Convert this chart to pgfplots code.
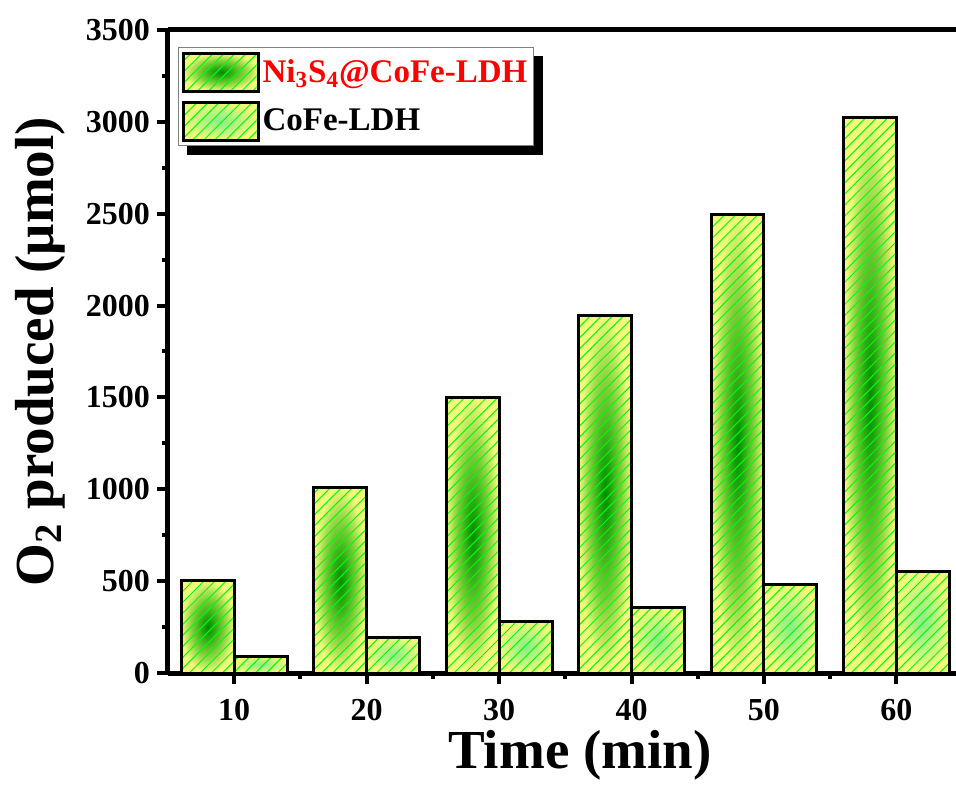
\documentclass[border=0pt]{standalone}
\usepackage{fontspec}
\setmainfont{Liberation Serif}
\usepackage{pgfplots}
\pgfplotsset{compat=1.18}
\usetikzlibrary{patterns.meta,calc,backgrounds}

\definecolor{edgeY}{RGB}{240,248,125}
\definecolor{niC}{RGB}{0,140,0}
\definecolor{niD}{RGB}{40,170,20}
\definecolor{niM}{RGB}{130,205,60}
\definecolor{coC}{RGB}{135,238,135}
\definecolor{hatch}{RGB}{0,255,0}

\pgfdeclareradialshading{nishade}{\pgfpoint{0bp}{0bp}}{color(0bp)=(niC); color(6bp)=(niD); color(15bp)=(niM); color(25bp)=(edgeY); color(50bp)=(edgeY)}
\pgfdeclareradialshading{coshade}{\pgfpoint{0bp}{0bp}}{color(0bp)=(coC); color(25bp)=(edgeY); color(50bp)=(edgeY)}

\pgfplotsset{
  nibar/.style={ybar, bar width=4, bar shift=-2, draw=black, line width=1.5pt,
    preaction={shade, shading=nishade},
    pattern={Lines[angle=45,distance=3.9pt,line width=0.5pt]}, pattern color=hatch},
  cobar/.style={ybar, bar width=4, bar shift=2, draw=black, line width=1.5pt,
    preaction={shade, shading=coshade},
    pattern={Lines[angle=45,distance=3.9pt,line width=0.5pt]}, pattern color=hatch},
}

\begin{document}
\begin{tikzpicture}
\begin{axis}[
  name=ax,
  scale only axis, width=394pt, height=321.5pt,
  xmin=5, xmax=64.5, ymin=0, ymax=3500,
  axis x line*=bottom, axis y line*=left,
  axis line style={line width=2.5pt},
  clip=false,
  xtick={10,20,...,60},
  minor xtick={15,25,...,55},
  ytick={0,500,...,3500},
  minor ytick={250,750,...,3250},
  tick align=outside,
  major tick length=5.5pt, minor tick length=3pt,
  every tick/.style={black, line width=2pt},
  /pgf/number format/assume math mode=true,
  /pgf/number format/set thousands separator={},
  tick label style={font=\bfseries\fontsize{16}{16}\selectfont},
  xticklabel style={yshift=-4pt},
  xlabel={Time (min)},
  ylabel={O\textsubscript{2} produced (μmol)},
  label style={font=\bfseries\fontsize{27.5}{27.5}\selectfont},
  xlabel style={at={(axis cs:36.1,0)}, yshift=-41pt, anchor=center},
  ylabel style={at={(axis description cs:-0.1624,0.5)}, anchor=center},
  legend style={name=leg, at={(axis description cs:0,1)}, xshift=5pt, yshift=-8.5pt, anchor=north west,
    draw=gray, line width=0.6pt, fill=white,
    font=\bfseries\fontsize{16.5}{16.5}\selectfont,
    inner xsep=1.5pt, inner ysep=2pt, row sep=4pt,
    nodes={inner xsep=1.5pt, inner ysep=2pt}},
  legend cell align=left,
  legend image code/.code={\draw[#1, line width=1.5pt] (0pt,-9.5pt) rectangle (37.5pt,9.5pt);},
]
\addplot[nibar] coordinates {(10,502)};
\addlegendentry{\textcolor{red}{Ni\textsubscript{3}S\textsubscript{4}@CoFe-LDH}}
\addplot[cobar] coordinates {(10,92)};
\addlegendentry{CoFe-LDH}
\addplot[nibar, forget plot] coordinates {(20,1008)};
\addplot[nibar, forget plot] coordinates {(30,1500)};
\addplot[nibar, forget plot] coordinates {(40,1947)};
\addplot[nibar, forget plot] coordinates {(50,2497)};
\addplot[nibar, forget plot] coordinates {(60,3022)};
\addplot[cobar, forget plot] coordinates {(20,194)};
\addplot[cobar, forget plot] coordinates {(30,283)};
\addplot[cobar, forget plot] coordinates {(40,354)};
\addplot[cobar, forget plot] coordinates {(50,484)};
\addplot[cobar, forget plot] coordinates {(60,550)};
\draw[line width=2.5pt] (rel axis cs:0,1) -- (rel axis cs:1,1);
\end{axis}
\begin{scope}[on background layer]
\fill[black] ($(leg.south west)+(4.5pt,-4.5pt)$) rectangle ($(leg.north east)+(4.5pt,-4.5pt)$);
\end{scope}
\pgfresetboundingbox
\path ($(ax.south west)+(-84pt,-56pt)$) rectangle ($(ax.north east)+(0pt,15pt)$);
\end{tikzpicture}
\end{document}
